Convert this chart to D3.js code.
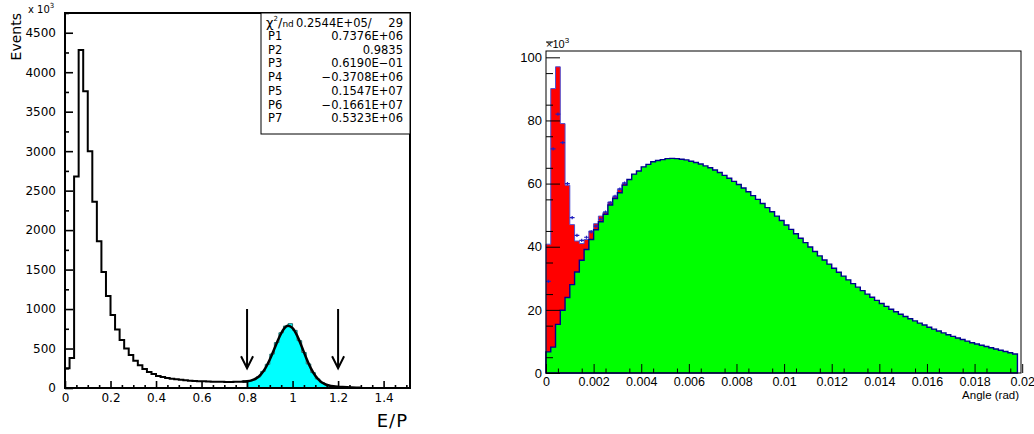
<!DOCTYPE html>
<html>
<head>
<meta charset="utf-8">
<script src="https://cdn.jsdelivr.net/npm/d3@7"></script>
<style>
  body { margin: 0; background: #fff; }
  .ep text { font-family: "DejaVu Sans", sans-serif; }
  .ang text { font-family: "Liberation Sans", Arial, sans-serif; }
</style>
</head>
<body>
<div id="chart"></div>
<script>
// ---- left: E/P, bins of 0.02, counts in units of 10^3 events
const epBinWidth = 0.02;
const epCounts = [250, 380, 2680, 4280, 3760, 3000, 2360, 1860, 1470, 1165,
                  925, 740, 608, 500, 418, 346, 288, 242, 204, 178,
                  152, 140, 128, 118, 110, 103, 97, 93, 89, 86,
                  84, 82, 80, 79, 78, 77, 77, 78, 79, 82];
const epSignalStart = 0.8;
const epSignal = [88, 105, 140, 210, 300, 430, 575, 700, 785, 815, 730,
                  600, 450, 305, 195, 115, 68, 40, 25, 17, 12, 9];
const fitX = [0.78, 0.80, 0.82, 0.84, 0.86, 0.88, 0.90, 0.92, 0.94, 0.96, 0.98,
              1.00, 1.02, 1.04, 1.06, 1.08, 1.10, 1.12, 1.14, 1.16, 1.18,
              1.20, 1.22, 1.24, 1.26, 1.28, 1.30];
const fitY = [81.2, 85.4, 96.9, 122.4, 170.5, 249.3, 361.0, 497.0, 634.0, 740.9, 787.4,
              759.4, 663.8, 526.6, 380.3, 251.9, 155.1, 91.0, 53.0, 32.2, 21.3,
              15.2, 11.4, 8.5, 6.7, 4.3, 2.7];
const epCuts = [0.8, 1.2];
const epXTicks = [0, 0.2, 0.4, 0.6, 0.8, 1, 1.2, 1.4];
const epYTicks = [0, 500, 1000, 1500, 2000, 2500, 3000, 3500, 4000, 4500];
const fitNames = ["P1", "P2", "P3", "P4", "P5", "P6", "P7"];
const fitValues = ["0.7376E+06", "0.9835", "0.6190E\u221201", "\u22120.3708E+06",
                   "0.1547E+07", "\u22120.1661E+07", "0.5323E+06"];
const chi2Text = "0.2544E+05/";
const ndfText = "29";

// ---- right: opening angle, bins of 0.0002, counts in units of 10^3
const angBinWidth = 0.0002;
const angGreen = [6.7, 8.2, 15.4, 19.9, 23.9, 28.0, 32.0, 35.7, 39.1, 42.3,
                  45.4, 47.9, 50.3, 53.2, 55.3, 57.1, 59.5, 61.3, 63.0, 64.0,
                  65.3, 66.1, 66.9, 67.3, 67.6, 67.9, 68.0, 67.9, 67.7, 67.5,
                  67.1, 66.7, 66.2, 65.6, 65.0, 64.3, 63.5, 62.6, 61.7, 60.7,
                  59.7, 58.6, 57.4, 56.2, 55.0, 53.7, 52.4, 51.1, 49.7, 48.3,
                  46.9, 45.5, 44.1, 42.7, 41.3, 39.9, 38.5, 37.1, 35.8, 34.5,
                  33.2, 31.9, 30.7, 29.5, 28.3, 27.2, 26.1, 25.0, 24.0, 23.0,
                  22.0, 21.1, 20.2, 19.4, 18.6, 17.9, 17.2, 16.5, 15.8, 15.2,
                  14.5, 13.9, 13.3, 12.7, 12.1, 11.6, 11.1, 10.6, 10.1, 9.6,
                  9.2, 8.8, 8.4, 8.0, 7.6, 7.2, 6.8, 6.4, 6.0];
// red only differs from green in the first bins
const angRed = [40.8, 90.1, 97.0, 79.0, 59.5, 47.0, 41.8, 41.0, 42.3, 45.0,
                47.3, 49.7, 51.0, 54.2, 55.8, 58.1, 60.0];
const angData = [29, 71, 82, 73, 60, 49.2, 43.6, 42, 43, 44.7,
                 46.5, 48.7, 51, 53.9, 56, 58.3, 60.2];
const angXTicks = [0, 0.002, 0.004, 0.006, 0.008, 0.01, 0.012, 0.014, 0.016, 0.018, 0.02];
const angXLabels = ["0", "0.002", "0.004", "0.006", "0.008", "0.01", "0.012", "0.014", "0.016", "0.018", "0.02"];
const angYTicks = [0, 20, 40, 60, 80, 100];

const svg = d3.select("#chart").append("svg")
    .attr("width", 1034)
    .attr("height", 434);

// step outline points for a histogram
function steps(start, width, vals) {
    let pts = [[start, 0]];
    vals.forEach(function (v, i) {
        pts.push([start + i * width, v]);
        pts.push([start + (i + 1) * width, v]);
    });
    pts.push([start + vals.length * width, 0]);
    return pts;
}

function range(a, b, s) {
    return d3.range(Math.round((b - a) / s) + 1).map(i => +(a + i * s).toFixed(6));
}

// ================= left panel =================
const L = { left: 65, right: 410, top: 13, bottom: 388 };
const ep = svg.append("g").attr("class", "ep");

let xEp = d3.scaleLinear().domain([0, 1.516]).range([L.left, L.right]);
let yEp = d3.scaleLinear().domain([0, 4750]).range([L.bottom, L.top]);

let line = d3.line().x(d => xEp(d[0])).y(d => yEp(d[1]));

// cyan signal region
let sig = steps(epSignalStart, epBinWidth, epSignal);
ep.append("path")
    .attr("d", line(sig) + "Z")
    .attr("fill", "#00ffff")
    .attr("stroke", "#2c6e6e")
    .attr("stroke-width", 1);

// black histogram up to the cut
let bg = steps(0, epBinWidth, epCounts);
bg.pop();
ep.append("path")
    .attr("d", line(bg))
    .attr("fill", "none")
    .attr("stroke", "#000")
    .attr("stroke-width", 2);

// fit curve
ep.append("path")
    .datum(fitX.map((x, i) => [x, fitY[i]]))
    .attr("d", d3.line().x(d => xEp(d[0])).y(d => yEp(d[1])).curve(d3.curveMonotoneX))
    .attr("fill", "none")
    .attr("stroke", "#000")
    .attr("stroke-width", 2.5);

// cut arrows
epCuts.forEach(function (c) {
    let x = xEp(c), y0 = yEp(1000), y1 = yEp(250);
    ep.append("path")
        .attr("d", "M" + x + "," + y0 + "V" + y1 +
                   "M" + (x - 6) + "," + (y1 - 12) + "L" + x + "," + y1 + "L" + (x + 6) + "," + (y1 - 12))
        .attr("fill", "none")
        .attr("stroke", "#000")
        .attr("stroke-width", 2);
});

// axes, ticks pointing inside
ep.append("g").attr("transform", "translate(" + L.left + ",0)")
    .call(d3.axisLeft(yEp).tickValues(epYTicks).tickSize(-8).tickPadding(9).tickFormat(d3.format("d")));
ep.append("g").attr("transform", "translate(" + L.left + ",0)")
    .call(d3.axisLeft(yEp).tickValues(range(250, 4750, 500)).tickSize(-4).tickFormat(""));
ep.append("g").attr("transform", "translate(0," + L.bottom + ")")
    .call(d3.axisBottom(xEp).tickValues(epXTicks).tickSize(-7).tickPadding(5).tickFormat(d3.format("~g")));
ep.append("g").attr("transform", "translate(0," + L.bottom + ")")
    .call(d3.axisBottom(xEp).tickValues(range(0.05, 1.5, 0.05).filter(v => Math.abs(v / 0.2 - Math.round(v / 0.2)) > 1e-6)).tickSize(-3).tickFormat(""));
ep.selectAll(".domain").remove();
ep.selectAll(".tick line").attr("stroke", "#000").attr("stroke-width", 1.6);
ep.selectAll(".tick text").attr("font-size", 12).attr("fill", "#000");

ep.append("rect")
    .attr("x", L.left).attr("y", L.top)
    .attr("width", L.right - L.left).attr("height", L.bottom - L.top)
    .attr("fill", "none").attr("stroke", "#000").attr("stroke-width", 2);

// labels
ep.append("text")
    .attr("transform", "translate(21," + L.top + ") rotate(-90)")
    .attr("text-anchor", "end")
    .attr("font-size", 14)
    .text("Events");
let mult = ep.append("text").attr("x", 28).attr("y", 13).attr("font-size", 10);
mult.append("tspan").text("x 10");
mult.append("tspan").attr("dy", -5).attr("font-size", 7).text("3");
ep.append("text")
    .attr("x", 408).attr("y", 427)
    .attr("text-anchor", "end")
    .attr("font-size", 18)
    .attr("letter-spacing", 1)
    .text("E/P");

// fit statistics box
const box = { x: 261, y: L.top, w: L.right - 261, h: 121 };
ep.append("rect")
    .attr("x", box.x).attr("y", box.y)
    .attr("width", box.w).attr("height", box.h)
    .attr("fill", "#fff").attr("stroke", "#000").attr("stroke-width", 1);
let chi = ep.append("text").attr("x", 266).attr("y", 27).attr("font-size", 12);
chi.append("tspan").attr("font-size", 13).text("\u03c7");
chi.append("tspan").attr("dy", -6).attr("font-size", 7).text("2");
chi.append("tspan").attr("dy", 6).attr("font-size", 13).text("/");
chi.append("tspan").attr("font-size", 9).text("nd");
ep.append("text").attr("x", 296).attr("y", 27).attr("font-size", 11.5).text(chi2Text);
ep.append("text").attr("x", 403).attr("y", 27).attr("text-anchor", "end").attr("font-size", 11.5).text(ndfText);
fitNames.forEach(function (n, i) {
    let yy = 40 + i * 13.7;
    ep.append("text").attr("x", 268).attr("y", yy).attr("font-size", 11.5).text(n);
    ep.append("text").attr("x", 403).attr("y", yy).attr("text-anchor", "end").attr("font-size", 11.5).text(fitValues[i]);
});

// ================= right panel =================
const R = { left: 546, right: 1021, top: 51, bottom: 373 };
const ang = svg.append("g").attr("class", "ang");

let xAng = d3.scaleLinear().domain([0, 0.01995]).range([R.left, R.right]);
let yAng = d3.scaleLinear().domain([0, 102]).range([R.bottom, R.top]);
let aLine = d3.line().x(d => xAng(d[0])).y(d => yAng(d[1]));

ang.append("path")
    .attr("d", aLine(steps(0, angBinWidth, angRed)) + "Z")
    .attr("fill", "#ff0000")
    .attr("stroke", "#5050d0")
    .attr("stroke-width", 1);

ang.append("path")
    .attr("d", aLine(steps(0, angBinWidth, angGreen)) + "Z")
    .attr("fill", "#00ff00")
    .attr("stroke", "#000090")
    .attr("stroke-width", 1.4);

// data points with error bars
ang.selectAll(".pt")
    .data(angData)
    .enter()
    .append("path")
    .attr("class", "pt")
    .attr("d", function (v, i) {
        let xa = xAng(i * angBinWidth), xb = xAng((i + 1) * angBinWidth);
        let xm = (xa + xb) / 2;
        return "M" + xa + "," + yAng(v) + "H" + xb +
               "M" + xm + "," + yAng(v + 0.5) + "V" + yAng(v - 0.5);
    })
    .attr("stroke", "#2020c0")
    .attr("stroke-width", 1.2)
    .attr("fill", "none");

let angY = ang.append("g").attr("transform", "translate(" + R.left + ",0)")
    .call(d3.axisLeft(yAng).tickValues(angYTicks).tickSize(-14).tickPadding(4));
ang.append("g").attr("transform", "translate(" + R.left + ",0)")
    .call(d3.axisLeft(yAng).tickValues(range(5, 100, 10)).tickSize(-7).tickFormat(""));
let angX = ang.append("g").attr("transform", "translate(0," + R.bottom + ")")
    .call(d3.axisBottom(xAng).tickValues(angXTicks).tickSize(-9).tickPadding(4)
        .tickFormat((d, i) => angXLabels[i]));
ang.append("g").attr("transform", "translate(0," + R.bottom + ")")
    .call(d3.axisBottom(xAng).tickValues(range(0.0005, 0.0195, 0.001)).tickSize(-4.5).tickFormat(""));
ang.selectAll(".domain").remove();
ang.selectAll(".tick line").attr("stroke", "#000").attr("stroke-width", 1);
angY.selectAll(".tick text").attr("font-size", 13).attr("fill", "#000");
angX.selectAll(".tick text").attr("font-size", 12.5).attr("fill", "#000");

ang.append("rect")
    .attr("x", R.left).attr("y", R.top)
    .attr("width", R.right - R.left).attr("height", R.bottom - R.top)
    .attr("fill", "none").attr("stroke", "#000").attr("stroke-width", 1);

let m2 = ang.append("text").attr("x", R.left).attr("y", 48).attr("font-size", 11);
m2.append("tspan").text("\u00d710");
m2.append("tspan").attr("dy", -5).attr("font-size", 8).text("3");

ang.append("text")
    .attr("x", 1019).attr("y", 399)
    .attr("text-anchor", "end")
    .attr("font-size", 11.5)
    .text("Angle (rad)");
</script>
</body>
</html>
